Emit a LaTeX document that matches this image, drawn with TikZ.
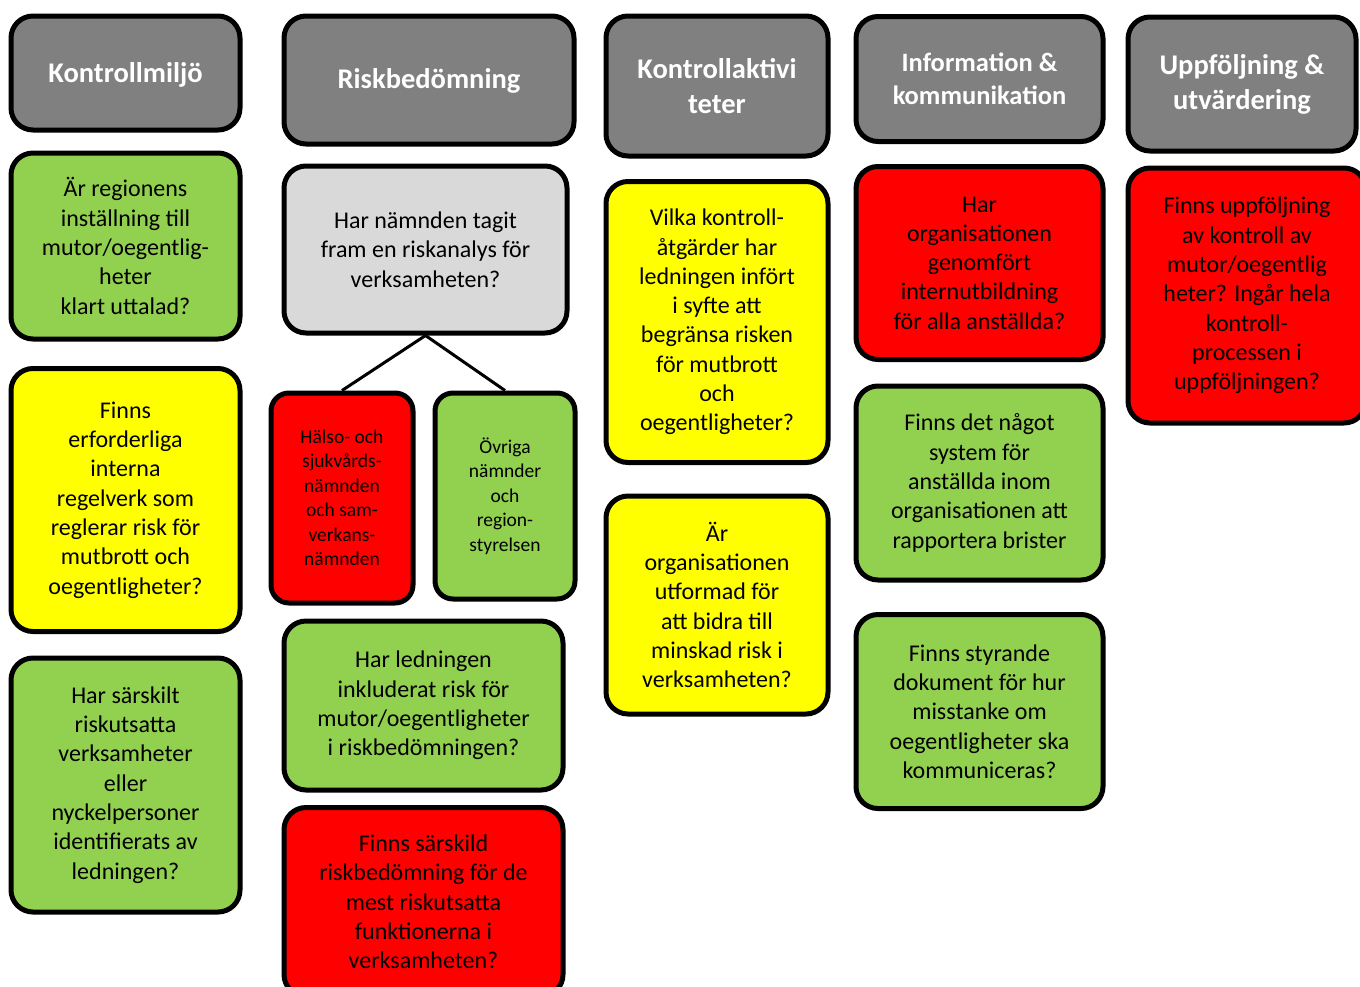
\documentclass[tikz,border=0pt]{standalone}
\usepackage{fontspec}
\setmainfont{Carlito}
\definecolor{qgray}{HTML}{808080}
\definecolor{qlight}{HTML}{D9D9D9}
\definecolor{qgreen}{HTML}{92D050}
\definecolor{qyellow}{HTML}{FFFF00}
\definecolor{qred}{HTML}{FF0000}
\tikzset{
  wh/.style 2 args = {minimum width=#1pt+3pt, minimum height=#2pt+3pt},
  qbox/.style = {draw=black, line width=5pt, rounded corners=22pt,
                 align=center, inner sep=2pt, text=black,
                 font=\fontsize{24}{29.3}\selectfont},
  header/.style = {qbox, fill=qgray, text=white,
                   font=\fontsize{28.5}{35}\selectfont\bfseries},
  small/.style = {qbox, rounded corners=18pt,
                  font=\fontsize{19.5}{24.5}\selectfont},
  link/.style = {draw=black, line width=3pt}
}

\begin{document}
\begin{tikzpicture}[x=1pt, y=-1pt]
	\fill[white] (0,0) rectangle (1360,986);
	\useasboundingbox (0,0) rectangle (1360,986);
	\clip (0,0) rectangle (1360,986);
	
	% Headers
	\node[header, wh={226}{111}, text depth=2pt] (miljo) at (125.5,73) {Kontrollmiljö};
	\node[header, wh={287}{125}, text depth=3pt] (risk) at (429,80) {Riskbedömning};
	\node[header, wh={219}{137}] (aktiv) at (717,86) {Kontrollaktivi\\teter};
	\node[header, wh={244}{122}, font=\fontsize{26.5}{33}\selectfont\bfseries] (info) at (979.5,79) {Information \&\\kommunikation};
	\node[header, wh={225}{131}] (uppf) at (1242,84) {Uppföljning \&\\utvärdering};
	
	% Kontrollmiljö
	\node[qbox, fill=qgreen, wh={226}{183}] (m1) at (125.5,246) {Är regionens\\inställning till\\mutor/oegentlig-\\heter\\klart uttalad?};
	\node[qbox, fill=qyellow, wh={226}{260}] (m2) at (125.5,500) {Finns\\erforderliga\\interna\\regelverk som\\reglerar risk för\\mutbrott och\\oegentligheter?};
	\node[qbox, fill=qgreen, wh={226}{251}] (m3) at (125.5,785) {Har särskilt\\riskutsatta\\verksamheter\\eller\\nyckelpersoner\\identifierats av\\ledningen?};
	
	% Riskbedömning
	\node[qbox, fill=qlight, wh={280}{164}] (r1) at (425.5,249.5) {Har nämnden tagit\\fram en riskanalys för\\verksamheten?};
	\node[small, fill=qred, wh={139}{207}] (halso) at (342,498) {Hälso- och\\sjukvårds-\\nämnden\\och sam-\\verkans-\\nämnden};
	\node[small, fill=qgreen, wh={137}{203}] (ovriga) at (505,496) {Övriga\\nämnder\\och\\region-\\styrelsen};
	\node[qbox, fill=qgreen, wh={276}{166}] (r2) at (423.5,705.5) {Har ledningen\\inkluderat risk för\\mutor/oegentligheter\\i riskbedömningen?};
	\node[qbox, fill=qred, wh={276}{186}] (r3) at (423.5,902) {Finns särskild\\riskbedömning för de\\mest riskutsatta\\funktionerna i\\verksamheten?};
	
	\draw[link] (r1.south) -- (halso.north);
	\draw[link] (r1.south) -- (ovriga.north);
	
	% Kontrollaktiviteter
	\node[qbox, fill=qyellow, wh={219}{278}] (a1) at (717,322) {Vilka kontroll-\\åtgärder har\\ledningen infört\\i syfte att\\begränsa risken\\för mutbrott\\och\\oegentligheter?};
	\node[qbox, fill=qyellow, wh={219}{215}] (a2) at (717,605) {Är\\organisationen\\utformad för\\att bidra till\\minskad risk i\\verksamheten?};
	
	% Information & kommunikation
	\node[qbox, fill=qred, wh={244}{190}] (i1) at (979.5,263) {Har\\organisationen\\genomfört\\internutbildning\\för alla anställda?};
	\node[qbox, fill=qgreen, wh={244}{191}] (i2) at (979.5,483) {Finns det något\\system för\\anställda inom\\organisationen att\\rapportera brister};
	\node[qbox, fill=qgreen, wh={244}{191}] (i3) at (979.5,711.5) {Finns styrande\\dokument för hur\\misstanke om\\oegentligheter ska\\kommuniceras?};
	
	% Uppföljning & utvärdering
	\node[qbox, fill=qred, wh={235}{252}] (u1) at (1247,295.5) {Finns uppföljning\\av kontroll av\\mutor/oegentlig\\heter? Ingår hela\\kontroll-\\processen i\\uppföljningen?};
	
\end{tikzpicture}
\end{document}
